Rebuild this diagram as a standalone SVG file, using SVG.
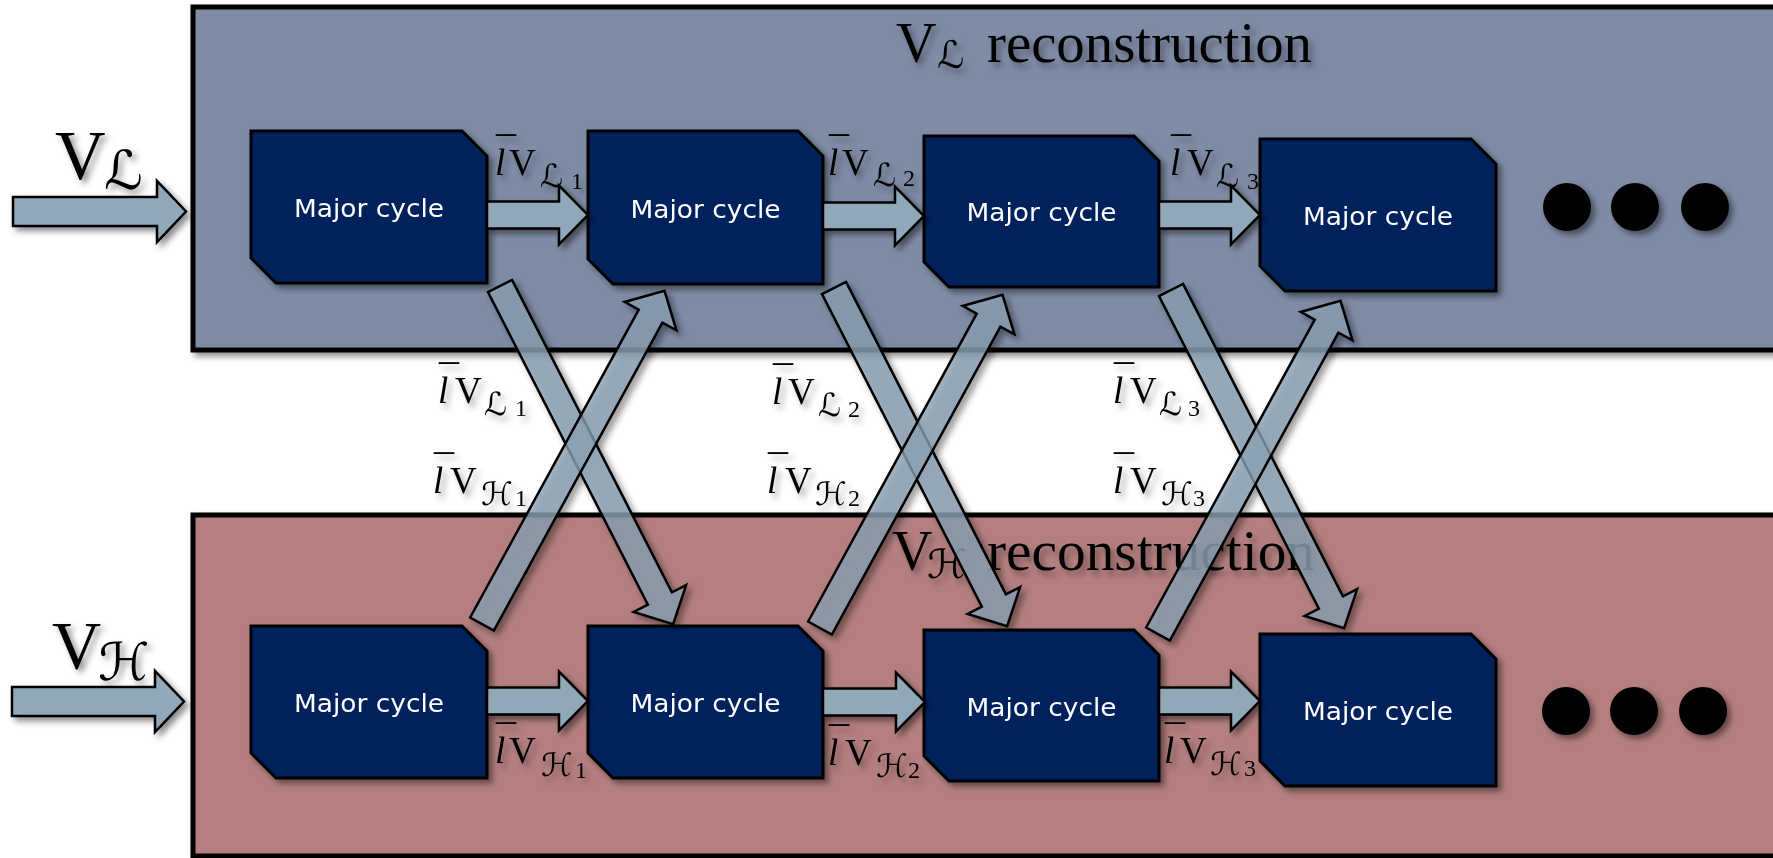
<svg xmlns="http://www.w3.org/2000/svg" width="1773" height="858" viewBox="0 0 1773 858">
<defs>
<filter id="sh" x="-20%" y="-20%" width="140%" height="140%">
<feDropShadow dx="4" dy="4" stdDeviation="3" flood-color="#000" flood-opacity="0.45"/>
</filter>
<filter id="tsh" x="-20%" y="-20%" width="140%" height="160%">
<feDropShadow dx="4" dy="5" stdDeviation="3" flood-color="#000" flood-opacity="0.35"/>
</filter>
<path id="diag" d="M0,-13.5 H351 V-29.5 L380,0 L351,29.5 V13.5 H0 Z"/>
</defs>
<style>
.panelL{fill:#7f8ca6;stroke:#000;stroke-width:5}
.panelH{fill:#b57f7f;stroke:#000;stroke-width:5}
.node{fill:#00205b;stroke:#000;stroke-width:3}
.nt{font-family:"DejaVu Sans",sans-serif;font-size:24px;fill:#fff;text-anchor:middle}
.arr{fill:#91a8b8;stroke:#000;stroke-width:2.5;stroke-linejoin:miter}
.darr{fill:#8aa0b2;fill-opacity:0.78;stroke:#000;stroke-width:2.5}
.lab{font-family:"Liberation Serif",serif;font-size:37px;fill:#000}
.mi{font-style:italic}
.bar{font-size:40px}
.sc{font-family:"DejaVu Serif","DejaVu Sans",serif;font-size:32px}
.dg{font-size:24px}
.dot{fill:#000}
</style>

<g id="panel-L" filter="url(#sh)">
<rect class="panelL" x="193" y="7" width="1620" height="343"/>
</g>
<g id="panel-H" filter="url(#sh)">
<rect class="panelH" x="193" y="515" width="1620" height="341"/>
</g>

<g id="title-L" filter="url(#tsh)">
<text class="lab" style="font-size:56px"><tspan x="896" y="62">V</tspan><tspan class="sc" x="937" y="68" style="font-size:38px">ℒ</tspan><tspan x="987" y="62" textLength="325" lengthAdjust="spacingAndGlyphs">reconstruction</tspan></text>
</g>
<g id="title-H" filter="url(#tsh)">
<text class="lab" style="font-size:56px"><tspan x="892" y="570">V</tspan><tspan class="sc" x="927" y="578" style="font-size:40px">ℋ</tspan><tspan x="987" y="570" textLength="328" lengthAdjust="spacingAndGlyphs">reconstruction</tspan></text>
</g>

<g id="input-L" filter="url(#sh)">
<polygon class="arr" points="13,197 157,197 157,181 186,211.5 157,242 157,226 13,226"/>
<text class="lab" style="font-size:70px"><tspan x="55" y="179">V</tspan><tspan class="sc" x="104" y="189" style="font-size:54px">ℒ</tspan></text>
</g>
<g id="input-H" filter="url(#sh)">
<polygon class="arr" points="12,687 155,687 155,671 184,701.5 155,732 155,716 12,716"/>
<text class="lab" style="font-size:68px"><tspan x="52" y="668">V</tspan><tspan class="sc" x="98" y="680" style="font-size:52px">ℋ</tspan></text>
</g>

<g id="nodes-L">
<g id="nL1" filter="url(#sh)"><path class="node" d="M251,131 H462 L487,156 V283 H276 L251,258 Z"/><text class="nt" x="369" y="217" textLength="150" lengthAdjust="spacingAndGlyphs">Major cycle</text></g>
<g id="nL2" filter="url(#sh)"><path class="node" d="M588,131 H798 L823,156 V284 H613 L588,259 Z"/><text class="nt" x="705.5" y="218" textLength="150" lengthAdjust="spacingAndGlyphs">Major cycle</text></g>
<g id="nL3" filter="url(#sh)"><path class="node" d="M924,136 H1134 L1159,161 V287 H949 L924,262 Z"/><text class="nt" x="1041.5" y="221" textLength="150" lengthAdjust="spacingAndGlyphs">Major cycle</text></g>
<g id="nL4" filter="url(#sh)"><path class="node" d="M1260,139 H1471 L1496,164 V291 H1285 L1260,266 Z"/><text class="nt" x="1378" y="225" textLength="150" lengthAdjust="spacingAndGlyphs">Major cycle</text></g>
</g>
<g id="nodes-H">
<g id="nH1" filter="url(#sh)"><path class="node" d="M251,626 H462 L487,651 V778 H276 L251,753 Z"/><text class="nt" x="369" y="712" textLength="150" lengthAdjust="spacingAndGlyphs">Major cycle</text></g>
<g id="nH2" filter="url(#sh)"><path class="node" d="M588,626 H798 L823,651 V778 H613 L588,753 Z"/><text class="nt" x="705.5" y="712" textLength="150" lengthAdjust="spacingAndGlyphs">Major cycle</text></g>
<g id="nH3" filter="url(#sh)"><path class="node" d="M924,630 H1134 L1159,655 V781 H949 L924,756 Z"/><text class="nt" x="1041.5" y="716" textLength="150" lengthAdjust="spacingAndGlyphs">Major cycle</text></g>
<g id="nH4" filter="url(#sh)"><path class="node" d="M1260,634 H1471 L1496,659 V786 H1285 L1260,761 Z"/><text class="nt" x="1378" y="720" textLength="150" lengthAdjust="spacingAndGlyphs">Major cycle</text></g>
</g>

<g id="dots" filter="url(#sh)">
<circle class="dot" cx="1567" cy="207" r="24"/>
<circle class="dot" cx="1635" cy="207" r="24"/>
<circle class="dot" cx="1705" cy="207" r="24"/>
<circle class="dot" cx="1566" cy="711" r="24"/>
<circle class="dot" cx="1634" cy="711" r="24"/>
<circle class="dot" cx="1703" cy="711" r="24"/>
</g>

<g id="labels" filter="url(#tsh)">
<!-- top row -->
<text class="lab"><tspan class="mi" x="495" y="175">l</tspan><tspan class="bar" x="496" y="165">¯</tspan><tspan x="509" y="175">V</tspan><tspan class="sc" x="540" y="187">ℒ</tspan><tspan class="dg" x="571" y="189">1</tspan></text>
<text class="lab"><tspan class="mi" x="828" y="175">l</tspan><tspan class="bar" x="829" y="165">¯</tspan><tspan x="842" y="175">V</tspan><tspan class="sc" x="873" y="186">ℒ</tspan><tspan class="dg" x="903" y="186">2</tspan></text>
<text class="lab"><tspan class="mi" x="1170" y="175">l</tspan><tspan class="bar" x="1171" y="165">¯</tspan><tspan x="1187" y="175">V</tspan><tspan class="sc" x="1216" y="187">ℒ</tspan><tspan class="dg" x="1247" y="189">3</tspan></text>
<!-- middle -->
<text class="lab"><tspan class="mi" x="438" y="403">l</tspan><tspan class="bar" x="439" y="393">¯</tspan><tspan x="455" y="403">V</tspan><tspan class="sc" x="484" y="415">ℒ</tspan><tspan class="dg" x="515" y="416">1</tspan></text>
<text class="lab"><tspan class="mi" x="433" y="493">l</tspan><tspan class="bar" x="434" y="483">¯</tspan><tspan x="450" y="493">V</tspan><tspan class="sc" x="481" y="505">ℋ</tspan><tspan class="dg" x="515" y="506">1</tspan></text>
<text class="lab"><tspan class="mi" x="772" y="404">l</tspan><tspan class="bar" x="773" y="394">¯</tspan><tspan x="788" y="404">V</tspan><tspan class="sc" x="818" y="416">ℒ</tspan><tspan class="dg" x="848" y="417">2</tspan></text>
<text class="lab"><tspan class="mi" x="767" y="493">l</tspan><tspan class="bar" x="768" y="483">¯</tspan><tspan x="785" y="493">V</tspan><tspan class="sc" x="815" y="505">ℋ</tspan><tspan class="dg" x="848" y="506">2</tspan></text>
<text class="lab"><tspan class="mi" x="1113" y="403">l</tspan><tspan class="bar" x="1114" y="393">¯</tspan><tspan x="1130" y="403">V</tspan><tspan class="sc" x="1159" y="415">ℒ</tspan><tspan class="dg" x="1188" y="416">3</tspan></text>
<text class="lab"><tspan class="mi" x="1113" y="493">l</tspan><tspan class="bar" x="1114" y="483">¯</tspan><tspan x="1130" y="493">V</tspan><tspan class="sc" x="1161" y="505">ℋ</tspan><tspan class="dg" x="1193" y="506">3</tspan></text>
<!-- bottom row -->
<text class="lab"><tspan class="mi" x="495" y="763">l</tspan><tspan class="bar" x="496" y="753">¯</tspan><tspan x="509" y="763">V</tspan><tspan class="sc" x="541" y="776">ℋ</tspan><tspan class="dg" x="575" y="778">1</tspan></text>
<text class="lab"><tspan class="mi" x="828" y="765">l</tspan><tspan class="bar" x="829" y="755">¯</tspan><tspan x="845" y="765">V</tspan><tspan class="sc" x="876" y="777">ℋ</tspan><tspan class="dg" x="908" y="778">2</tspan></text>
<text class="lab"><tspan class="mi" x="1164" y="763">l</tspan><tspan class="bar" x="1165" y="753">¯</tspan><tspan x="1180" y="763">V</tspan><tspan class="sc" x="1210" y="775">ℋ</tspan><tspan class="dg" x="1244" y="776">3</tspan></text>
</g>

<g id="connectors">
<g filter="url(#sh)">
<polygon class="arr" points="487,201.5 559,201.5 559,185.5 588,215 559,244.5 559,228.5 487,228.5"/>
<polygon class="arr" points="823,202.5 895,202.5 895,186.5 924,216 895,245.5 895,229.5 823,229.5"/>
<polygon class="arr" points="1159,201.5 1231,201.5 1231,185.5 1260,215 1231,244.5 1231,228.5 1159,228.5"/>
<polygon class="arr" points="487,687.5 559,687.5 559,671.5 588,701 559,730.5 559,714.5 487,714.5"/>
<polygon class="arr" points="823,688.5 896,688.5 896,672.5 925,702 896,731.5 896,715.5 823,715.5"/>
<polygon class="arr" points="1159,687.5 1231,687.5 1231,671.5 1260,701 1231,730.5 1231,714.5 1159,714.5"/>
</g>
<g filter="url(#sh)">
<use href="#diag" class="darr" transform="translate(500,286) rotate(62.9)"/>
<use href="#diag" class="darr" transform="translate(482,624) rotate(-61.3)"/>
<use href="#diag" class="darr" transform="translate(834,288) rotate(62.9)"/>
<use href="#diag" class="darr" transform="translate(820,628) rotate(-61.3)"/>
<use href="#diag" class="darr" transform="translate(1171,290) rotate(62.9)"/>
<use href="#diag" class="darr" transform="translate(1158,634) rotate(-61.3)"/>
</g>
</g>
</svg>
